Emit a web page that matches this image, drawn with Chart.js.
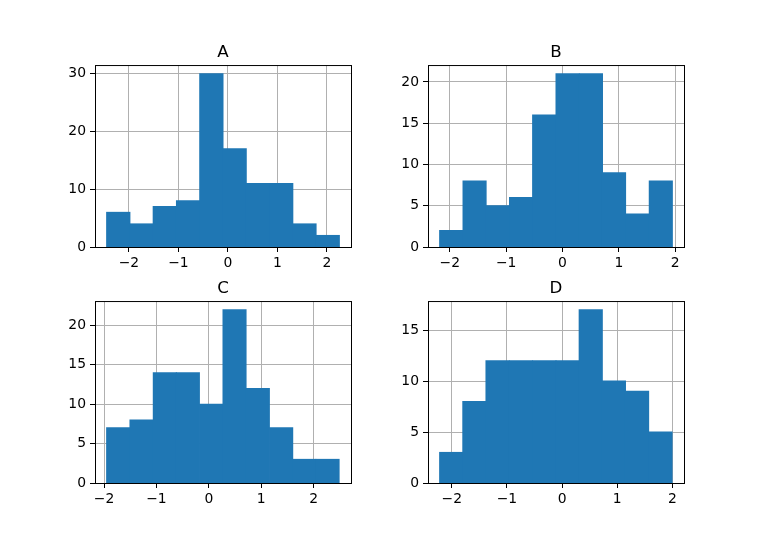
<!DOCTYPE html>
<html>
<head>
<meta charset="utf-8">
<script src="https://cdn.jsdelivr.net/npm/chart.js@4"></script>
<style>
  body { margin: 0; background: #fff; }
  #fig { position: relative; width: 760px; height: 543px; overflow: hidden; }
  #fig canvas { position: absolute; }
</style>
</head>
<body>
<div id="fig"></div>
<script>
// histogram data: bin edges + counts per column
const titles = ["A", "B", "C", "D"];

const edgesA = [-2.45, -1.98, -1.51, -1.04, -0.57, -0.10, 0.37, 0.84, 1.31, 1.78, 2.25];
const countsA = [6, 4, 7, 8, 30, 17, 11, 11, 4, 2];

const edgesB = [-2.18, -1.77, -1.35, -0.94, -0.53, -0.12, 0.30, 0.71, 1.12, 1.54, 1.95];
const countsB = [2, 8, 5, 6, 16, 21, 21, 9, 4, 8];

const edgesC = [-1.95, -1.51, -1.06, -0.62, -0.18, 0.27, 0.71, 1.16, 1.60, 2.04, 2.49];
const countsC = [7, 8, 14, 14, 10, 22, 12, 7, 3, 3];

const edgesD = [-2.22, -1.80, -1.38, -0.96, -0.53, -0.11, 0.31, 0.73, 1.15, 1.57, 2.00];
const countsD = [3, 8, 12, 12, 12, 12, 17, 10, 9, 5];

const xStep = 1;
const yStepA = 10;
const yStepB = 5;
const yStepC = 5;
const yStepD = 5;

Chart.defaults.font.family = "'DejaVu Sans', sans-serif";
Chart.defaults.color = "#000";

const fig = document.getElementById("fig");
const PW = 256, PH = 182;        // plot area size
const padL = 60, padR = 10, padT = 25, padB = 30;

// black box around the axes like matplotlib spines
const frame = {
  id: "frame",
  afterDraw(chart) {
    const { ctx, chartArea: a } = chart;
    ctx.save();
    ctx.strokeStyle = "#000";
    ctx.lineWidth = 1;
    ctx.strokeRect(a.left + 0.5, a.top + 0.5, a.width, a.height);
    ctx.restore();
  }
};

function fmt(v) {
  return v < 0 ? "\u2212" + Math.abs(v) : String(v);
}

function drawHist(left, top, title, edges, counts, yStep) {
  const canvas = document.createElement("canvas");
  canvas.width = padL + PW + padR;
  canvas.height = padT + PH + padB;
  canvas.style.left = (left - padL) + "px";
  canvas.style.top = (top - padT) + "px";
  fig.appendChild(canvas);

  const points = counts.map((c, i) => ({ x: (edges[i] + edges[i + 1]) / 2, y: c }));
  const lo = edges[0], hi = edges[edges.length - 1];
  const span = hi - lo;
  const tickFont = { size: 13.9 };

  new Chart(canvas.getContext("2d"), {
    type: "bar",
    data: {
      datasets: [{
        data: points,
        backgroundColor: "#1f77b4",
        borderWidth: 0,
        inflateAmount: 0.5,
        barPercentage: 1,
        categoryPercentage: 1
      }]
    },
    options: {
      responsive: false,
      animation: false,
      layout: { padding: { left: 0, right: padR, top: 0, bottom: 0 } },
      plugins: {
        legend: { display: false },
        tooltip: { enabled: false },
        title: {
          display: true,
          text: title,
          fullSize: false,
          color: "#000",
          font: { size: 16.7, weight: "normal" },
          padding: { top: 3, bottom: 2 }
        }
      },
      scales: {
        x: {
          type: "linear",
          offset: false,
          min: lo - 0.05 * span,
          max: hi + 0.05 * span,
          z: 1,
          border: { display: false },
          grid: { offset: false, color: "#b0b0b0", lineWidth: 1, tickColor: "#000", tickLength: 5, tickWidth: 1 },
          ticks: { stepSize: xStep, includeBounds: false, autoSkip: false, maxRotation: 0, padding: 3, font: tickFont, callback: fmt },
          afterFit: s => { s.height = padB; }
        },
        y: {
          min: 0,
          max: Math.max(...counts) * 1.05,
          z: 1,
          border: { display: false },
          grid: { color: "#b0b0b0", lineWidth: 1, tickColor: "#000", tickLength: 5, tickWidth: 1 },
          ticks: { stepSize: yStep, includeBounds: false, autoSkip: false, padding: 4, font: tickFont, callback: fmt },
          afterFit: s => { s.width = padL; }
        }
      }
    },
    plugins: [frame]
  });
}

drawHist(95, 65, titles[0], edgesA, countsA, yStepA);
drawHist(428, 65, titles[1], edgesB, countsB, yStepB);
drawHist(95, 301, titles[2], edgesC, countsC, yStepC);
drawHist(428, 301, titles[3], edgesD, countsD, yStepD);
</script>
</body>
</html>
